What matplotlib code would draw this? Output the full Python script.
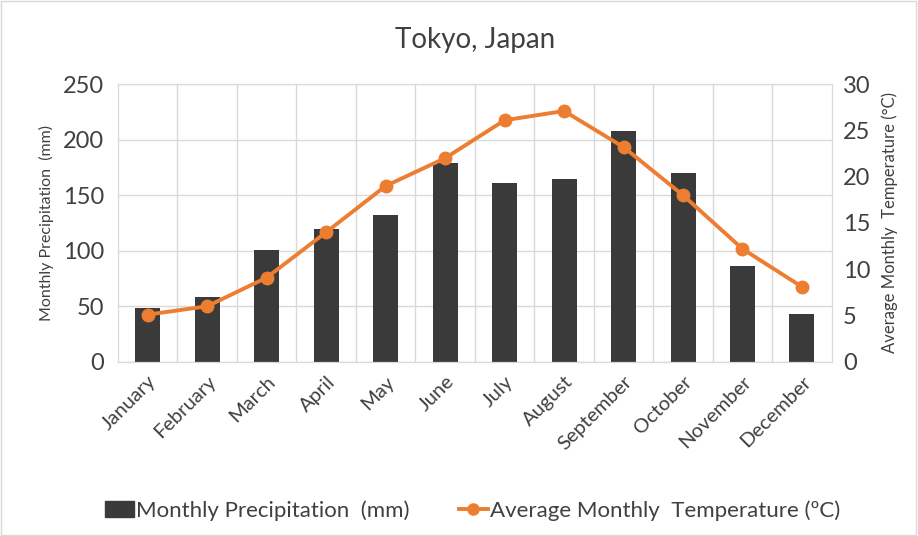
import numpy as np
import matplotlib.pyplot as plt
from matplotlib.lines import Line2D
from matplotlib.patches import Patch

months = ["January", "February", "March", "April", "May", "June", "July",
          "August", "September", "October", "November", "December"]
precip_mm = [48, 58, 101, 120, 132, 179, 161, 165, 208, 170, 86, 43]
temp_c = [5.1, 6.0, 9.1, 14.0, 19.0, 22.0, 26.1, 27.1, 23.2, 18.0, 12.2, 8.1]

plt.rcParams['font.family'] = ['Lato', 'DejaVu Sans']

bar_color = '#3a3a3a'
line_color = '#ed7d31'
grid_color = '#d9d9d9'
text_color = '#404040'

fig = plt.figure(figsize=(9.18, 5.36), dpi=100)
ax = fig.add_axes([0.1285, 0.325, 0.7775, 0.518])
ax2 = ax.twinx()

x = np.arange(len(months))
ax.bar(x, precip_mm, width=0.42, color=bar_color, zorder=2)
ax2.plot(x, temp_c, color=line_color, lw=2.8, marker='o', ms=9, zorder=3)

ax.set_xlim(-0.5, len(months) - 0.5)
ax.set_ylim(0, 250)
ax.set_yticks(range(0, 251, 50))
ax2.set_ylim(0, 30)
ax2.set_yticks(range(0, 31, 5))

# vertical grid between categories, horizontal at ticks
for b in np.arange(0.5, len(months) - 1, 1):
    ax.axvline(b, color=grid_color, lw=1, zorder=0)
ax.yaxis.grid(True, color=grid_color, lw=1, zorder=0)
ax.set_axisbelow(True)

for a in (ax, ax2):
    for s in a.spines.values():
        s.set_color(grid_color)
    a.tick_params(length=0, labelsize=17, labelcolor=text_color)

ax.set_xticks(x)
ax.set_xticklabels(months, rotation=45, ha='right', rotation_mode='anchor', fontsize=14.5)
ax.tick_params(axis='x', pad=8)
ax.tick_params(axis='y', pad=10)
ax2.tick_params(axis='y', pad=8)

ax.set_ylabel("Monthly Precipitation  (mm)", fontsize=11.5, color=text_color, labelpad=6)
ax2.set_ylabel("Average Monthly  Temperature (°C)", fontsize=12, color=text_color, labelpad=8)
ax.set_title("Tokyo, Japan", fontsize=20, color=text_color, pad=26)

handles = [Patch(color=bar_color),
           Line2D([0], [0], color=line_color, lw=2.8, marker='o', ms=8)]
labels = ["Monthly Precipitation  (mm)", "Average Monthly  Temperature (\u00baC)"]
fig.legend(handles, labels, loc='center', bbox_to_anchor=(0.515, 0.048), ncol=2,
           frameon=False, fontsize=16, handlelength=1.3, handletextpad=0.1,
           columnspacing=2.2, labelcolor=text_color)

fig.patches.append(plt.Rectangle((0.001, 0.001), 0.997, 0.997, transform=fig.transFigure,
                                 fill=False, edgecolor='#d9d9d9', lw=1))

fig.savefig("out.png", dpi=100)
